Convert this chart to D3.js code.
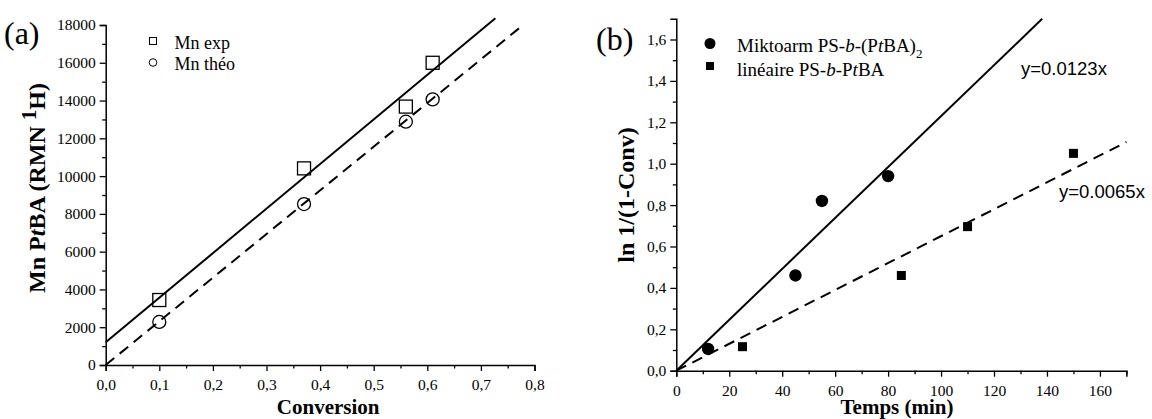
<!DOCTYPE html>
<html><head><meta charset="utf-8">
<script src="https://cdn.jsdelivr.net/npm/d3@7"></script>
<style>
body{margin:0;background:#fff;}
svg{display:block;}
text{fill:#000;}
</style></head>
<body>
<svg id="c" width="1152" height="419"></svg>
<script>
// ---- Panel (a) data ----
const convExp = [0.10, 0.37, 0.56, 0.61];
const mnExp = [3440, 10410, 13680, 16000];
const convTheo = [0.10, 0.37, 0.56, 0.61];
const mnTheo = [2280, 8520, 12880, 14060];
const fitExpX = [0, 0.727];
const fitExpY = [1200, 18360];
const fitTheoX = [0, 0.78];
const fitTheoY = [0, 18030];
const aXTicks = [0, 0.1, 0.2, 0.3, 0.4, 0.5, 0.6, 0.7, 0.8];
const aYTicks = [0, 2000, 4000, 6000, 8000, 10000, 12000, 14000, 16000, 18000];
const aLegend = ["Mn exp", "Mn théo"];

// ---- Panel (b) data ----
const tMikto = [12, 45, 55, 80];
const lnMikto = [0.105, 0.46, 0.82, 0.94];
const tLin = [25, 85, 110, 150];
const lnLin = [0.116, 0.46, 0.696, 1.05];
const slopeMikto = 0.0123;
const slopeLin = 0.0065;
const fitMiktoX = [0, 138.2];
const fitLinX = [0, 170];
const bXTicks = [0, 20, 40, 60, 80, 100, 120, 140, 160];
const bYTicks = [0, 0.2, 0.4, 0.6, 0.8, 1.0, 1.2, 1.4, 1.6];
const eqLabels = ["y=0.0123x", "y=0.0065x"];

const svg = d3.select("#c");
const serif = "Liberation Serif, Times New Roman, serif";
const sans = "Liberation Sans, Arial, sans-serif";
const fmt1 = d => d3.format(".1f")(d).replace(".", ",");

function drawAxes(g, x, y, xt, xminor, yt, yminor, xfmt, yfmt, xpad) {
  const [x0] = x.range();
  const [y0] = y.range();
  const ax = g.append("g").attr("transform", `translate(0,${y0})`)
    .call(d3.axisBottom(x).tickValues(xt).tickSize(6).tickPadding(xpad).tickFormat(xfmt));
  const axm = g.append("g").attr("transform", `translate(0,${y0})`)
    .call(d3.axisBottom(x).tickValues(xminor).tickSize(3.5).tickFormat(""));
  const ay = g.append("g").attr("transform", `translate(${x0},0)`)
    .call(d3.axisLeft(y).tickValues(yt).tickSize(6).tickPadding(4).tickFormat(yfmt));
  const aym = g.append("g").attr("transform", `translate(${x0},0)`)
    .call(d3.axisLeft(y).tickValues(yminor).tickSize(3.5).tickFormat(""));
  [ax, axm, ay, aym].forEach(a => {
    a.attr("font-family", serif).attr("font-size", 15.5);
    a.select(".domain").attr("stroke", "#000").attr("stroke-width", 1.5);
    a.selectAll(".tick line").attr("stroke", "#000").attr("stroke-width", 1.3);
    a.selectAll(".tick text").style("font-family", serif).style("font-size", "15.5px").attr("fill", "#000");
  });
  axm.select(".domain").remove(); aym.select(".domain").remove();
}

// ===== Panel (a) =====
const xa = d3.scaleLinear().domain([0, 0.8]).range([105.7, 534.5]);
const ya = d3.scaleLinear().domain([0, 18000]).range([365, 25]);
const ga = svg.append("g");
drawAxes(ga, xa, ya, aXTicks, d3.range(0.05, 0.8, 0.1), aYTicks,
  d3.range(1000, 18000, 2000), fmt1, d3.format("d"), 8);

const lineA = d3.line().x(d => xa(d[0])).y(d => ya(d[1]));
ga.append("path").datum(d3.zip(fitExpX, fitExpY)).attr("d", lineA)
  .attr("fill", "none").attr("stroke", "#000").attr("stroke-width", 2);
ga.append("path").datum(d3.zip(fitTheoX, fitTheoY)).attr("d", lineA)
  .attr("fill", "none").attr("stroke", "#000").attr("stroke-width", 2).attr("stroke-dasharray", "11,7");

ga.selectAll("rect.exp").data(d3.zip(convExp, mnExp)).join("rect")
  .attr("x", d => xa(d[0]) - 6.5).attr("y", d => ya(d[1]) - 6.5)
  .attr("width", 13).attr("height", 13)
  .attr("fill", "none").attr("stroke", "#000").attr("stroke-width", 1.3);
ga.selectAll("circle.theo").data(d3.zip(convTheo, mnTheo)).join("circle")
  .attr("cx", d => xa(d[0])).attr("cy", d => ya(d[1])).attr("r", 6.5)
  .attr("fill", "none").attr("stroke", "#000").attr("stroke-width", 1.3);

// legend (a)
ga.append("rect").attr("x", 149.5).attr("y", 37.5).attr("width", 7).attr("height", 7)
  .attr("fill", "none").attr("stroke", "#000").attr("stroke-width", 1);
ga.append("circle").attr("cx", 153).attr("cy", 62.5).attr("r", 3.8)
  .attr("fill", "none").attr("stroke", "#000").attr("stroke-width", 1);
ga.selectAll("text.leg").data(aLegend).join("text")
  .attr("x", 174.5).attr("y", (d, i) => 49 + i * 20.5)
  .attr("font-family", serif).attr("font-size", 18).text(d => d);

// labels (a)
svg.append("text").attr("x", 4).attr("y", 44).attr("font-family", serif).attr("font-size", 32).text("(a)");
svg.append("text").attr("x", xa(0.415)).attr("y", 413.5).attr("text-anchor", "middle")
  .attr("font-family", serif).attr("font-size", 21).attr("font-weight", "bold").text("Conversion");
const ylA = svg.append("text").attr("transform", "translate(45,188) rotate(-90)")
  .attr("text-anchor", "middle").attr("font-family", serif).attr("font-size", 24).attr("font-weight", "bold");
ylA.append("tspan").text("Mn P");
ylA.append("tspan").attr("font-style", "italic").text("t");
ylA.append("tspan").text("BA (RMN ");
ylA.append("tspan").attr("dy", -9).attr("font-size", 21).text("1");
ylA.append("tspan").attr("dy", 9).text("H)");

// ===== Panel (b) =====
const xb = d3.scaleLinear().domain([0, 170]).range([676.3, 1126.4]);
const yb = d3.scaleLinear().domain([0, 1.7]).range([370.7, 18.8]);
const gb = svg.append("g");
drawAxes(gb, xb, yb, bXTicks, d3.range(10, 171, 20), bYTicks,
  d3.range(0.1, 1.7, 0.2), d3.format("d"), fmt1, 8);

const lineB = d3.line().x(d => xb(d[0])).y(d => yb(d[1]));
gb.append("path").datum(fitMiktoX.map(t => [t, slopeMikto * t])).attr("d", lineB)
  .attr("fill", "none").attr("stroke", "#000").attr("stroke-width", 2);
gb.append("path").datum(fitLinX.map(t => [t, slopeLin * t])).attr("d", lineB)
  .attr("fill", "none").attr("stroke", "#000").attr("stroke-width", 2).attr("stroke-dasharray", "11,7");

gb.selectAll("rect.lin").data(d3.zip(tLin, lnLin)).join("rect")
  .attr("x", d => xb(d[0]) - 4.5).attr("y", d => yb(d[1]) - 4.5)
  .attr("width", 9).attr("height", 9).attr("fill", "#000");
gb.selectAll("circle.mik").data(d3.zip(tMikto, lnMikto)).join("circle")
  .attr("cx", d => xb(d[0])).attr("cy", d => yb(d[1])).attr("r", 6.2).attr("fill", "#000");

// legend (b)
gb.append("circle").attr("cx", 710).attr("cy", 43.5).attr("r", 5.5).attr("fill", "#000");
gb.append("rect").attr("x", 706).attr("y", 62).attr("width", 8).attr("height", 8).attr("fill", "#000");
const l1 = gb.append("text").attr("x", 737).attr("y", 51.5).attr("font-family", serif).attr("font-size", 19);
l1.append("tspan").text("Miktoarm PS-");
l1.append("tspan").attr("font-style", "italic").text("b");
l1.append("tspan").text("-(P");
l1.append("tspan").attr("font-style", "italic").text("t");
l1.append("tspan").text("BA)");
l1.append("tspan").attr("dy", 6).attr("font-size", 13).text("2");
const l2 = gb.append("text").attr("x", 737).attr("y", 76).attr("font-family", serif).attr("font-size", 19);
l2.append("tspan").text("linéaire PS-");
l2.append("tspan").attr("font-style", "italic").text("b");
l2.append("tspan").text("-P");
l2.append("tspan").attr("font-style", "italic").text("t");
l2.append("tspan").text("BA");

gb.append("text").attr("x", 1021).attr("y", 75).attr("font-family", sans).attr("font-size", 18.5).text(eqLabels[0]);
gb.append("text").attr("x", 1059).attr("y", 198).attr("font-family", sans).attr("font-size", 18.5).text(eqLabels[1]);

svg.append("text").attr("x", 596).attr("y", 50).attr("font-family", serif).attr("font-size", 32).text("(b)");
svg.append("text").attr("x", 897).attr("y", 414).attr("text-anchor", "middle")
  .attr("font-family", serif).attr("font-size", 21).attr("font-weight", "bold").text("Temps (min)");
svg.append("text").attr("transform", "translate(634,195) rotate(-90)")
  .attr("text-anchor", "middle").attr("font-family", serif).attr("font-size", 24).attr("font-weight", "bold")
  .text("ln 1/(1-Conv)");
</script>
</body></html>
